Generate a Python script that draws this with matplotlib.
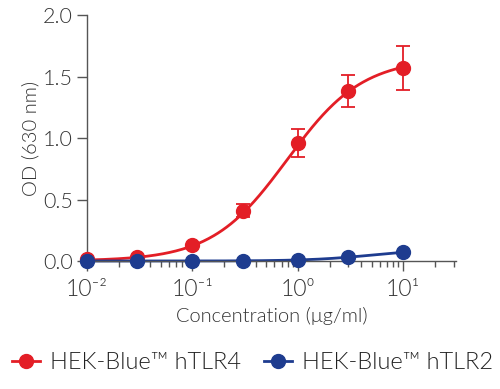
import numpy as np
import matplotlib
matplotlib.use("Agg")
import matplotlib.pyplot as plt
from matplotlib.ticker import LogLocator, NullFormatter

conc = [0.01, 0.03, 0.1, 0.3, 1.0, 3.0, 10.0]
tlr4 = [0.02, 0.03, 0.13, 0.41, 0.96, 1.38, 1.57]
tlr4_err = [0.0, 0.0, 0.0, 0.05, 0.11, 0.13, 0.18]
tlr2 = [0.0, 0.0, 0.0, 0.0, 0.01, 0.03, 0.07]
xtick_labels = ["10⁻²", "10⁻¹", "10⁰", "10¹"]
ytick_labels = ["0.0", "0.5", "1.0", "1.5", "2.0"]

red = "#E31E26"
blue = "#1E3C8F"
grey = "#555555"
txt = "#333333"

plt.rcParams["font.family"] = ["Lato", "DejaVu Sans"]
plt.rcParams["font.weight"] = 300
plt.rcParams["axes.labelweight"] = 300


def fit_4pl(x, y):
  # coarse least squares grid search, bottom fixed at 0
  x = np.asarray(x)[:, None, None, None]
  y = np.asarray(y)[:, None, None, None]
  top = np.linspace(0.05, 3.0, 60)[None, :, None, None]
  ec50 = np.logspace(-2, 3, 80)[None, None, :, None]
  hill = np.linspace(0.5, 3.0, 50)[None, None, None, :]
  pred = top / (1 + (ec50 / x) ** hill)
  err = ((pred - y) ** 2).sum(axis=0)
  i, j, k = np.unravel_index(np.argmin(err), err.shape)
  return top[0, i, 0, 0], ec50[0, 0, j, 0], hill[0, 0, 0, k]


def curve(p, xs):
  t, e, h = p
  return t / (1 + (e / xs) ** h)


xs = np.logspace(-2, 1, 300)

fig = plt.figure(figsize=(5, 3.89), dpi=100)
ax = fig.add_axes([0.174, 0.329, 0.738, 0.632])

ax.plot(xs, curve(fit_4pl(conc, tlr4), xs), color=red, lw=2, clip_on=False)
ax.plot(xs, curve(fit_4pl(conc, tlr2), xs), color=blue, lw=2, clip_on=False)
ax.errorbar(conc, tlr4, yerr=tlr4_err, fmt="o", color=red, ms=10,
            elinewidth=1.3, capsize=5, capthick=1.3, clip_on=False, zorder=3)
ax.plot(conc, tlr2, "o", color=blue, ms=10, clip_on=False, zorder=4)

ax.set_xscale("log")
ax.set_xlim(0.01, 10 ** 1.5)
ax.set_ylim(0, 2.0)
ax.set_yticks([0, 0.5, 1.0, 1.5, 2.0])
ax.set_yticklabels(ytick_labels)
ax.xaxis.set_minor_locator(LogLocator(base=10, subs=np.arange(2, 10), numticks=10))
ax.xaxis.set_minor_formatter(NullFormatter())
ax.set_xticks([0.01, 0.1, 1, 10])
ax.set_xticklabels(xtick_labels)

for s in ["top", "right"]:
  ax.spines[s].set_visible(False)
for s in ["left", "bottom"]:
  ax.spines[s].set_color(grey)
  ax.spines[s].set_linewidth(1)
ax.tick_params(which="major", length=7, width=1, color=grey, labelcolor=txt)
ax.tick_params(axis="y", labelsize=15.5, pad=3)
ax.tick_params(axis="x", labelsize=16.5, pad=6)
ax.tick_params(which="minor", length=4, width=1, color=grey)

ax.set_xlabel("Concentration (μg/ml)", fontsize=14.5, color=txt, labelpad=5)
ax.set_ylabel("OD (630 nm)", fontsize=14.5, color=txt, labelpad=3)

h1, = ax.plot([], [], "-o", color=red, ms=10, lw=2)
h2, = ax.plot([], [], "-o", color=blue, ms=10, lw=2)
fig.legend([h1, h2], ["HEK-Blue™ hTLR4", "HEK-Blue™ hTLR2"], loc="center",
           bbox_to_anchor=(0.505, 0.067), ncol=2, frameon=False, fontsize=17,
           handlelength=1.2, columnspacing=0.95, handletextpad=0.42,
           labelcolor="#222222")

fig.savefig("out.png", dpi=100)
